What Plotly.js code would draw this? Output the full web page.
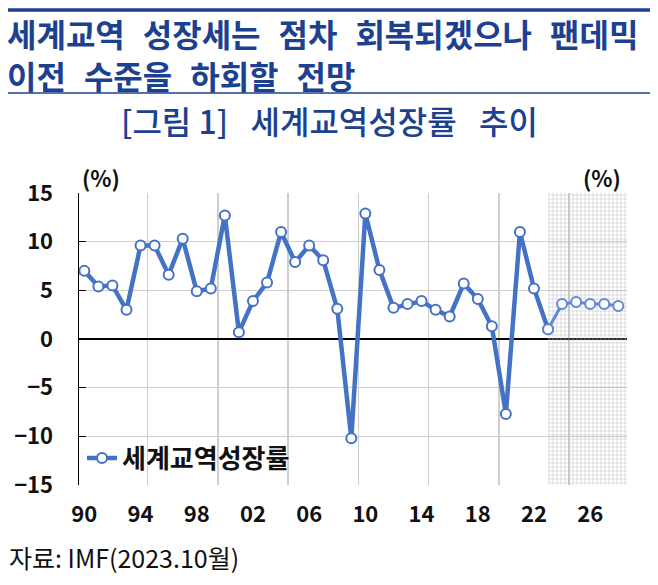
<!DOCTYPE html>
<html>
<head>
<meta charset="utf-8">
<script src="https://cdn.plot.ly/plotly-3.0.1.min.js"></script>
<style>html,body{margin:0;padding:0;background:#fff;}</style>
</head>
<body>
<div id="chart" style="width:658px;height:585px;"></div>
<script>
// ---- data ----
const years = [1990,1991,1992,1993,1994,1995,1996,1997,1998,1999,
               2000,2001,2002,2003,2004,2005,2006,2007,2008,2009,
               2010,2011,2012,2013,2014,2015,2016,2017,2018,2019,
               2020,2021,2022,2023,2024,2025,2026,2027,2028];
const tradeGrowth = [7.0,5.4,5.5,3.0,9.6,9.6,6.6,10.3,4.9,5.2,
                     12.7,0.7,3.9,5.8,11.0,7.9,9.6,8.1,3.1,-10.2,
                     12.9,7.1,3.2,3.6,3.9,3.0,2.3,5.7,4.1,1.3,
                     -7.7,11.0,5.2,1.0,3.6,3.8,3.6,3.6,3.4];
const forecastStart = 2023;
const tickYears = [1990,1994,1998,2002,2006,2010,2014,2018,2022,2026];
const tickLabels = ["90","94","98","02","06","10","14","18","22","26"];
const seriesName = "세계교역성장률";

// ---- layout geometry ----
const W = 658, H = 585;
const M = {l:79, r:31, t:193, b:100};
const xRange = [1989.62, 2028.62];
const yRange = [-15, 15];
const pw = W - M.l - M.r, ph = H - M.t - M.b;
const px2x = p => (p - M.l) / pw;
const px2y = p => (H - M.b - p) / ph;

const blue = '#4472C4';
const navy = '#1d4191';
const KR = '"Noto Sans CJK KR", "Noto Sans", sans-serif';
const SP = '\u2002\u2009';
const TS = '\u2002\u200A';

const fi = years.indexOf(forecastStart);
const histX = years.slice(0, fi + 1), histY = tradeGrowth.slice(0, fi + 1);
const fcX = years.slice(fi), fcY = tradeGrowth.slice(fi);

const shade = {
  x: [forecastStart, forecastStart, xRange[1], xRange[1], forecastStart],
  y: [yRange[0], yRange[1], yRange[1], yRange[0], yRange[0]],
  mode: 'lines', fill: 'toself', line: {width: 0},
  fillcolor: 'rgba(215,215,215,0.3)',
  fillpattern: {shape: '+', size: 4, solidity: 0.22, fgcolor: '#b8b8b8'},
  hoverinfo: 'skip', showlegend: false
};
const hist = {
  x: histX, y: histY, name: seriesName, mode: 'lines+markers',
  line: {color: blue, width: 4.5},
  marker: {symbol: 'circle', size: 10, color: '#ffffff', line: {color: blue, width: 2}},
  showlegend: true
};
const fc = {
  x: fcX, y: fcY, mode: 'lines+markers', showlegend: false,
  line: {color: '#6389d0', width: 3},
  marker: {symbol: 'circle', size: 10, color: '#ffffff', line: {color: '#6389d0', width: 2}}
};

const layout = {
  width: W, height: H, autosize: false,
  margin: M, paper_bgcolor: '#fff', plot_bgcolor: '#fff',
  showlegend: true,
  legend: {x: px2x(82), xanchor: 'left', y: px2y(458), yanchor: 'middle',
           bgcolor: 'rgba(0,0,0,0)', font: {family: KR, size: 26, color: '#111', weight: 'bold'},
           itemwidth: 30},
  xaxis: {range: xRange, tickmode: 'array', tickvals: tickYears, ticktext: tickLabels,
          showgrid: false, zeroline: false, showline: false, ticks: '',
          ticklabelstandoff: 14,
          tickfont: {family: KR, size: 22, color: '#111', weight: 'bold'},
          minor: {tick0: 1994.5, dtick: 5, showgrid: true, gridcolor: '#cfcfcf', gridwidth: 1.5, ticks: ''}},
  yaxis: {range: yRange, dtick: 5, tick0: 0, showgrid: true, gridcolor: '#cfcfcf', gridwidth: 1.5,
          zeroline: true, zerolinecolor: '#000', zerolinewidth: 1.5,
          showline: true, linecolor: '#000', linewidth: 1.5,
          ticks: 'inside', ticklen: 7, tickwidth: 1.5, tickcolor: '#000',
          ticklabelstandoff: 20,
          tickfont: {family: KR, size: 22, color: '#111', weight: 'bold'}},
  shapes: [
    {type: 'line', xref: 'paper', yref: 'paper', x0: px2x(8), x1: px2x(650), y0: px2y(10), y1: px2y(10),
     line: {color: navy, width: 3.5}},
    {type: 'line', xref: 'paper', yref: 'paper', x0: px2x(8), x1: px2x(650), y0: px2y(93), y1: px2y(93),
     line: {color: navy, width: 1.5}}
  ],
  annotations: [
    {text: '세계교역' + TS + '성장세는' + TS + '점차' + TS + '회복되겠으나' + TS + '팬데믹<br>' +
           '이전' + TS + '수준을' + TS + '하회할' + TS + '전망',
     xref: 'paper', yref: 'paper', align: 'left',
     x: px2x(5), y: px2y(54.5), xanchor: 'left', yanchor: 'middle', showarrow: false,
     font: {family: KR, size: 32, color: navy, weight: 'bold'}},
    {text: '[그림 1]' + SP + '세계교역성장률' + SP + '추이', xref: 'paper', yref: 'paper',
     x: px2x(329), y: px2y(120), xanchor: 'center', yanchor: 'middle', showarrow: false,
     font: {family: KR, size: 32, color: navy, weight: 500}},
    {text: '(%)', xref: 'paper', yref: 'paper', x: px2x(80), y: px2y(177), xanchor: 'left', yanchor: 'middle',
     showarrow: false, font: {family: KR, size: 22, color: '#111', weight: 'bold'}},
    {text: '(%)', xref: 'paper', yref: 'paper', x: px2x(623), y: px2y(177), xanchor: 'right', yanchor: 'middle',
     showarrow: false, font: {family: KR, size: 22, color: '#111', weight: 'bold'}},
    {text: '자료: IMF(2023.10월)', xref: 'paper', yref: 'paper', x: px2x(7), y: px2y(557),
     xanchor: 'left', yanchor: 'middle', showarrow: false,
     font: {family: '"Liberation Sans Narrow", "Noto Sans CJK KR", sans-serif', size: 25, color: '#111'}}
  ]
};

Plotly.newPlot('chart', [shade, hist, fc], layout, {displayModeBar: false, staticPlot: true});
</script>
</body>
</html>
